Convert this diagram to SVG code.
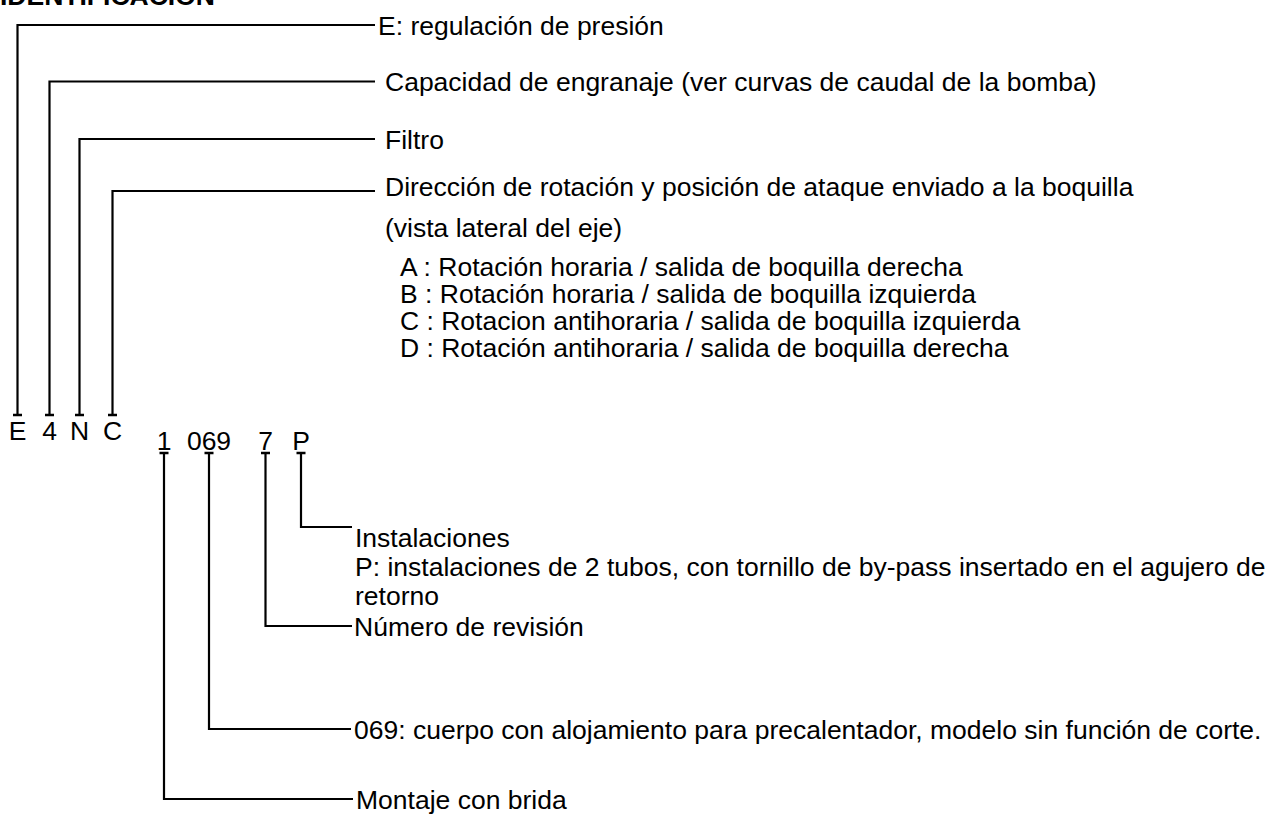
<svg xmlns="http://www.w3.org/2000/svg" width="1284" height="814" viewBox="0 0 1284 814">
<style>
  text { font-family: "Liberation Sans", Arial, sans-serif; font-size: 26.5px; fill: #000; }
  .title { font-weight: bold; }
  .code { text-anchor: middle; }
  .conn path { fill: none; stroke: #000; stroke-width: 2.2; }
  .conn .cap { stroke-width: 2.5; }
</style>
<rect width="1284" height="814" fill="#fff"/>
<text class="title" x="0" y="4.5">IDENTIFICACIÓN</text>
<g class="conn" id="connectors">
  <path d="M17.5,415 V25 H375"/>
  <path d="M49.5,415 V81.5 H375"/>
  <path d="M79.5,415 V139 H375"/>
  <path d="M112.5,415 V191 H375"/>
  <path class="cap" d="M13,415 H22 M45,415 H54 M75,415 H84 M108,415 H117"/>
  <path d="M164,453 V799 H353"/>
  <path d="M209,453 V729 H351"/>
  <path d="M265.5,453 V626 H352"/>
  <path d="M301,453 V527 H352"/>
  <path class="cap" d="M159.5,453 H168.5 M204.5,453 H213.5 M261,453 H270 M296.5,453 H305.5"/>
</g>
<g id="code-top">
  <text class="code" x="17.5" y="440">E</text>
  <text class="code" x="49.5" y="440">4</text>
  <text class="code" x="79.5" y="440">N</text>
  <text class="code" x="112.5" y="440">C</text>
</g>
<g id="code-bottom">
  <text class="code" x="164" y="450">1</text>
  <text class="code" x="209" y="450">069</text>
  <text class="code" x="265.5" y="450">7</text>
  <text class="code" x="301" y="450">P</text>
</g>
<g id="node-E"><text x="378" y="34.5">E: regulación de presión</text></g>
<g id="node-4"><text x="385" y="91">Capacidad de engranaje (ver curvas de caudal de la bomba)</text></g>
<g id="node-N"><text x="385" y="148.5">Filtro</text></g>
<g id="node-C">
  <text x="385" y="196">Dirección de rotación y posición de ataque enviado a la boquilla</text>
  <text x="385" y="237">(vista lateral del eje)</text>
  <text x="400" y="275.5">A : Rotación horaria / salida de boquilla derecha</text>
  <text x="400" y="302.5">B : Rotación horaria / salida de boquilla izquierda</text>
  <text x="400" y="329.5">C : Rotacion antihoraria / salida de boquilla izquierda</text>
  <text x="400" y="356.5">D : Rotación antihoraria / salida de boquilla derecha</text>
</g>
<g id="node-P">
  <text x="355" y="547">Instalaciones</text>
  <text x="355" y="576">P: instalaciones de 2 tubos, con tornillo de by-pass insertado en el agujero de</text>
  <text x="355" y="605">retorno</text>
</g>
<g id="node-7"><text x="354" y="636">Número de revisión</text></g>
<g id="node-069"><text x="354" y="739">069: cuerpo con alojamiento para precalentador, modelo sin función de corte.</text></g>
<g id="node-1"><text x="356" y="809">Montaje con brida</text></g>
</svg>
